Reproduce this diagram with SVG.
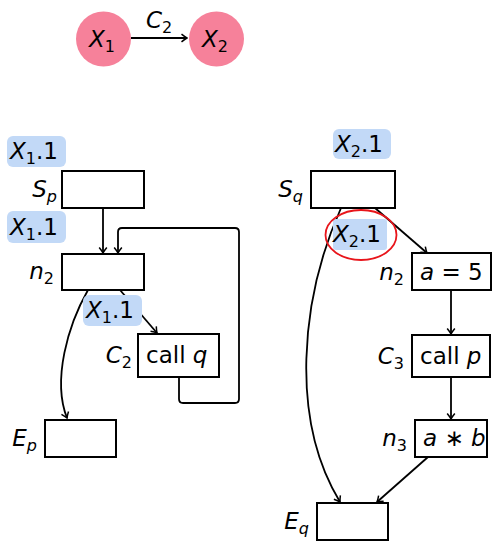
<svg xmlns="http://www.w3.org/2000/svg" width="493" height="541" viewBox="0 0 493 541">
<defs>
<style>
.t{font-family:"DejaVu Sans","Liberation Sans",sans-serif;font-size:23px;fill:#000}
.i{font-style:italic}
.s{font-size:16px}
.u{font-style:normal}
.box{fill:#fff;stroke:#000;stroke-width:2}
.badge{fill:#c2d9f7}
.st{fill:#f6819a}
.c{fill:none;stroke:#000;stroke-width:1.8}
</style>
<marker id="ar" viewBox="-8 -5 9 10" markerWidth="9" markerHeight="10" refX="0" refY="0" orient="auto" markerUnits="userSpaceOnUse">
<path d="M-5.5,-3.8 Q-2,-1 0,0 Q-2,1 -5.5,3.8" fill="none" stroke="#000" stroke-width="1.5"/>
</marker>
</defs>
<rect width="493" height="541" fill="#fff"/>

<g id="connectors">
<path class="c" d="M131,38 L187,38" marker-end="url(#ar)"/>
<path class="c" d="M103,208 L103,253" marker-end="url(#ar)"/>
<path class="c" d="M179,377 L179,399 Q179,403 183,403 L235,403 Q239,403 239,399 L239,232 Q239,228 235,228 L122,228 Q118,228 118,232 L118,253" marker-end="url(#ar)"/>
<path class="c" d="M120,290 L157,333" marker-end="url(#ar)"/>
<path class="c" d="M88,290 C68,325 52,380 67,418" marker-end="url(#ar)"/>
<path class="c" d="M375,208 L427,253" marker-end="url(#ar)"/>
<path class="c" d="M341,208 C300,300 290,420 340,502" marker-end="url(#ar)"/>
<path class="c" d="M451,290 L451,334" marker-end="url(#ar)"/>
<path class="c" d="M451,377 L451,419" marker-end="url(#ar)"/>
<path class="c" d="M428,457 L377,502" marker-end="url(#ar)"/>
<text class="t i" x="146" y="28">C<tspan class="s u" dy="5">2</tspan></text>
</g>

<g id="X1">
<circle class="st" cx="103.5" cy="39" r="27.5"/>
<text class="t i" x="89" y="47">X<tspan class="s u" dy="5">1</tspan></text>
</g>
<g id="X2">
<circle class="st" cx="216.5" cy="39" r="27.5"/>
<text class="t i" x="202" y="47">X<tspan class="s u" dy="5">2</tspan></text>
</g>

<g id="badge_p1">
<rect class="badge" x="7" y="136" width="59" height="31" rx="6"/>
<text class="t i" x="10" y="159">X<tspan class="s u" dy="5">1</tspan><tspan class="u" dy="-5">.1</tspan></text>
</g>
<g id="Sp">
<rect class="box" x="62" y="171" width="82" height="37"/>
<text class="t i" x="57" y="197" text-anchor="end">S<tspan class="s" dy="5">p</tspan></text>
</g>
<g id="badge_p2">
<rect class="badge" x="7" y="211" width="59" height="32" rx="6"/>
<text class="t i" x="10" y="235">X<tspan class="s u" dy="5">1</tspan><tspan class="u" dy="-5">.1</tspan></text>
</g>
<g id="n2p">
<rect class="box" x="62" y="254" width="82" height="36"/>
<text class="t i" x="54" y="279" text-anchor="end">n<tspan class="s u" dy="5">2</tspan></text>
</g>
<g id="badge_p3">
<rect class="badge" x="83" y="295" width="59" height="31" rx="6"/>
<text class="t i" x="86" y="318">X<tspan class="s u" dy="5">1</tspan><tspan class="u" dy="-5">.1</tspan></text>
</g>
<g id="C2">
<rect class="box" x="138" y="334" width="81" height="43"/>
<text class="t" x="146" y="363">call <tspan class="i">q</tspan></text>
<text class="t i" x="132" y="363" text-anchor="end">C<tspan class="s u" dy="5">2</tspan></text>
</g>
<g id="Ep">
<rect class="box" x="45" y="420" width="71" height="37"/>
<text class="t i" x="37" y="446" text-anchor="end">E<tspan class="s" dy="5">p</tspan></text>
</g>

<g id="badge_q1">
<rect class="badge" x="333" y="129" width="58" height="30" rx="6"/>
<text class="t i" x="335" y="152">X<tspan class="s u" dy="5">2</tspan><tspan class="u" dy="-5">.1</tspan></text>
</g>
<g id="Sq">
<rect class="box" x="311" y="171" width="84" height="37"/>
<text class="t i" x="303" y="197" text-anchor="end">S<tspan class="s" dy="5">q</tspan></text>
</g>
<g id="badge_q2">
<rect class="badge" x="333" y="219" width="54" height="31" rx="3"/>
<text class="t i" x="333" y="242">X<tspan class="s u" dy="5">2</tspan><tspan class="u" dy="-5">.1</tspan></text>
<ellipse cx="361" cy="235" rx="35.5" ry="25" fill="none" stroke="#e8151b" stroke-width="1.8"/>
</g>
<g id="n2q">
<rect class="box" x="412" y="253" width="79" height="37"/>
<text class="t i" x="420" y="280">a <tspan class="u">= 5</tspan></text>
<text class="t i" x="404" y="280" text-anchor="end">n<tspan class="s u" dy="5">2</tspan></text>
</g>
<g id="C3">
<rect class="box" x="412" y="335" width="78" height="42"/>
<text class="t" x="420" y="364">call <tspan class="i">p</tspan></text>
<text class="t i" x="404" y="364" text-anchor="end">C<tspan class="s u" dy="5">3</tspan></text>
</g>
<g id="n3">
<rect class="box" x="415" y="420" width="72" height="37"/>
<text class="t i" x="423" y="446">a <tspan class="u">∗</tspan> b</text>
<text class="t i" x="407" y="446" text-anchor="end">n<tspan class="s u" dy="5">3</tspan></text>
</g>
<g id="Eq">
<rect class="box" x="317" y="503" width="71" height="37"/>
<text class="t i" x="309" y="529" text-anchor="end">E<tspan class="s" dy="5">q</tspan></text>
</g>
</svg>
